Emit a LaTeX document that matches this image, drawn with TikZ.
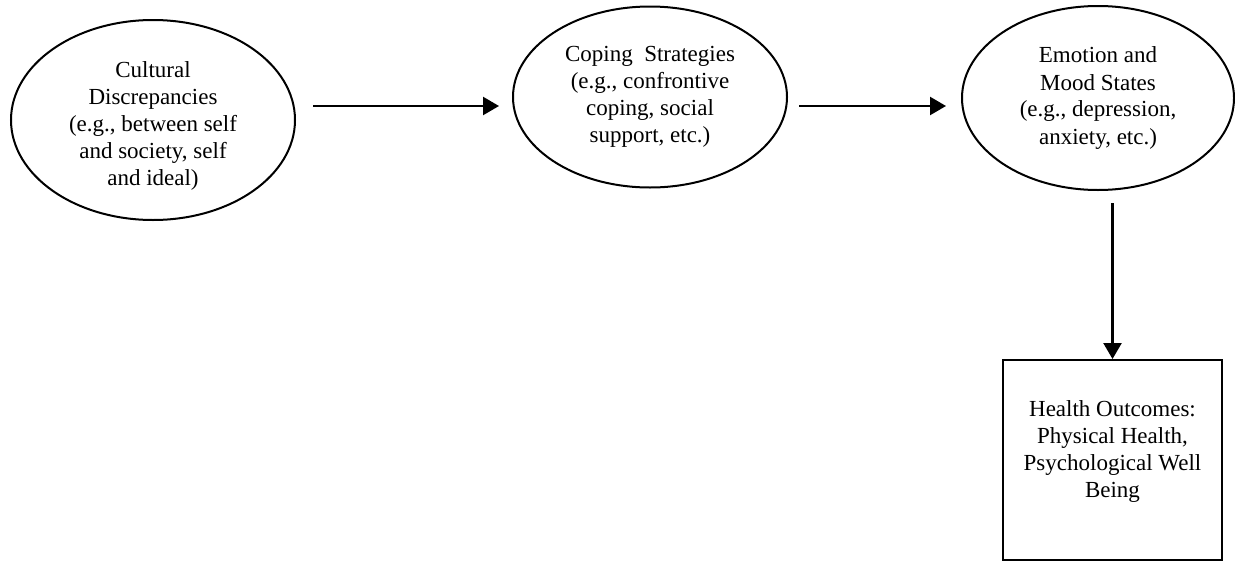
\documentclass[tikz,border=0pt]{standalone}
\usepackage{fontspec}
\setmainfont{Liberation Serif}
\usetikzlibrary{shapes.geometric,arrows.meta}
\begin{document}
\begin{tikzpicture}[x=0.5pt,y=-0.5pt,
  txt/.style={font=\fontsize{11.5pt}{13.5pt}\selectfont,align=center,inner sep=0pt},
  oval/.style={ellipse,draw,line width=1pt,inner sep=0pt,txt},
  outbox/.style={rectangle,draw,line width=1pt,inner sep=0pt},
  arr/.style={line width=1.2pt,-{Triangle[length=8pt,width=9pt]}}]
\useasboundingbox (0,0) rectangle (1235,562);
\node[oval,minimum width=142pt,minimum height=100pt] (e1) at (153,120) {};
\node[txt] (e1t) at (153,126)
  {Cultural\\Discrepancies\\(e.g., between self\\and society, self\\and ideal)};
\node[oval,minimum width=137pt,minimum height=90.5pt] (e2) at (650,97)
  {Coping\ \ Strategies\\(e.g., confrontive\\coping, social\\support, etc.)};
\node[oval,minimum width=136pt,minimum height=92pt] (e3) at (1098,98)
  {Emotion and\\Mood States\\(e.g., depression,\\anxiety, etc.)};
\node[outbox,minimum width=109.5pt,minimum height=100pt] (hb) at (1112.5,460) {};
\node[txt] (ht) at (1112.5,451)
  {Health Outcomes:\\Physical Health,\\Psychological Well\\Being};
\coordinate (ay) at (0,106);
\draw[arr] ([xshift=8.5pt]e1.east |- ay) -- ([xshift=-6.5pt]e2.west |- ay);
\draw[arr] ([xshift=5.5pt]e2.east |- ay) -- ([xshift=-7.5pt]e3.west |- ay);
\draw[arr] ([yshift=-6pt]hb.north |- e3.south) -- (hb.north);
\end{tikzpicture}
\end{document}
